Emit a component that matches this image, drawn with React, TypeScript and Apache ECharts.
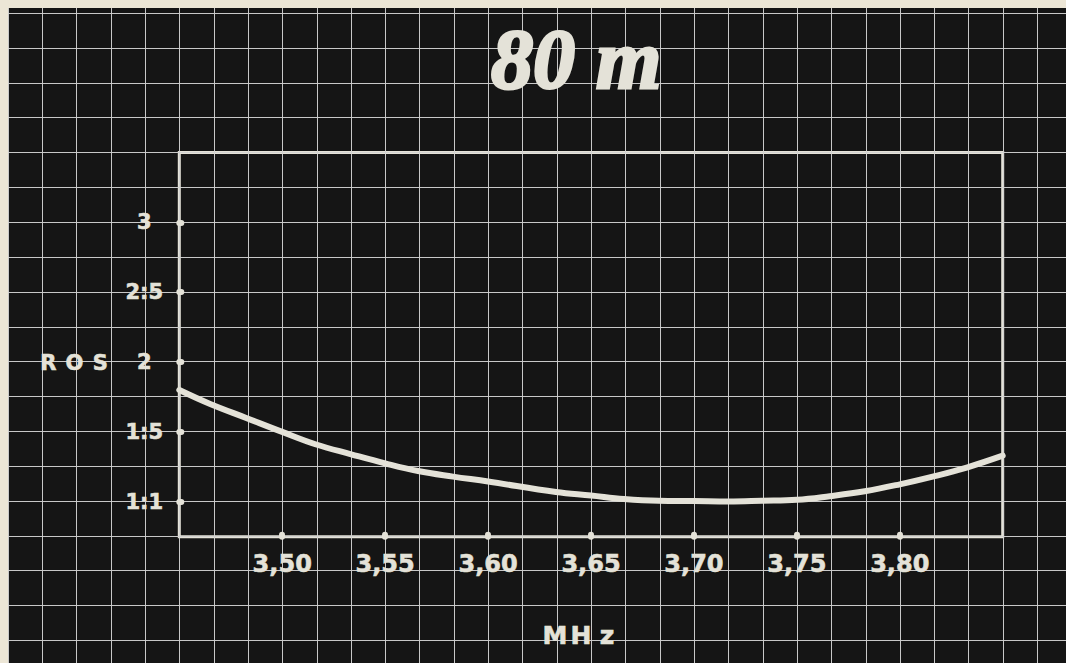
import React, { useEffect, useRef } from "react";
import * as echarts from "echarts";

// Frequency (MHz) and ROS (SWR)
const freqMHz = [3.45, 3.465, 3.4825, 3.5, 3.5165, 3.5335, 3.55, 3.566, 3.583, 3.6, 3.633, 3.65, 3.666, 3.683, 3.7, 3.717, 3.733, 3.75, 3.766, 3.783, 3.8, 3.816, 3.8325, 3.85];
const rosValues = [1.8, 1.7, 1.6, 1.5, 1.41, 1.34, 1.275, 1.22, 1.18, 1.145, 1.07, 1.045, 1.02, 1.007, 1.005, 1.002, 1.007, 1.014, 1.04, 1.075, 1.125, 1.18, 1.245, 1.33];

const xTickValues = [3.5, 3.55, 3.6, 3.65, 3.7, 3.75, 3.8];
const xTickLabels = ["3,50", "3,55", "3,60", "3,65", "3,70", "3,75", "3,80"];
const yTickValues = [1, 1.5, 2, 2.5, 3];
const yTickLabels = ["1:1", "1:5", "2", "2:5", "3"];

const titleText = "80 m";
const xName = "MHz";
const yName = "ROS";

const INK = "#e4e2d8";
const PAPER = "#151515";
const GRIDLINE = "#d2d2d2";

function lookup(values: number[], labels: string[], v: number): string {
  for (let i = 0; i < values.length; i++) {
    if (Math.abs(values[i] - v) < 1e-6) return labels[i];
  }
  return "";
}

function spaced(s: string): string {
  return s.split("").map((c) => `{c|${c}}`).join("");
}

export default function App() {
  const ref = useRef<HTMLDivElement>(null);

  useEffect(() => {
    if (!ref.current) return;
    const chart = echarts.init(ref.current, null, { renderer: "svg" });
    const font = "DejaVu Sans";
    chart.setOption({
      animation: false,
      backgroundColor: PAPER,
      title: {
        text: titleText,
        left: 478,
        top: 4,
        textStyle: {
          fontFamily: "Liberation Serif",
          fontStyle: "italic",
          fontWeight: "bold",
          fontSize: 84,
          color: INK,
          textBorderColor: INK,
          textBorderWidth: 3,
        },
      },
      grid: [
        { left: 0, right: 0, top: 0, bottom: 0, show: true, backgroundColor: PAPER, borderWidth: 0 },
        { left: 0, right: 0, top: 5.1, bottom: 22.6, show: false },
        {
          left: 171.3,
          right: 63.3,
          top: 144.5,
          bottom: 126.3,
          show: true,
          backgroundColor: "transparent",
          borderColor: INK,
          borderWidth: 3,
        },
      ],
      xAxis: [
        {
          type: "value",
          gridIndex: 0,
          min: -5,
          max: -5 + 1058 / 34.31,
          interval: 1,
          axisLine: { show: false },
          axisTick: { show: false },
          axisLabel: { show: false },
          splitLine: { show: true, lineStyle: { color: GRIDLINE, width: 1, opacity: 0.95 } },
        },
        {
          type: "value",
          gridIndex: 1,
          min: 0,
          max: 1,
          show: false,
          splitLine: { show: false },
        },
        {
          type: "value",
          gridIndex: 2,
          min: 3.45,
          max: 3.85,
          axisLine: { show: false },
          splitLine: { show: false },
          axisTick: {
            show: true,
            customValues: xTickValues,
            inside: true,
            length: 2,
            lineStyle: { color: INK, width: 6, cap: "round" },
          },
          axisLabel: {
            customValues: xTickValues,
            formatter: (v: number) => lookup(xTickValues, xTickLabels, v),
            color: INK,
            fontFamily: font,
            fontWeight: "bold",
            fontSize: 24,
            margin: 15,
            textBorderColor: INK,
            textBorderWidth: 0.6,
          },
          name: spaced(xName),
          nameLocation: "middle",
          nameGap: 86,
          nameTextStyle: {
            padding: [0, 20, 0, 0],
            rich: {
              c: { width: 26, align: "center", color: INK, fontFamily: font, fontWeight: "bold", fontSize: 25, textBorderColor: INK, textBorderWidth: 0.6 },
            },
          },
        },
      ],
      yAxis: [
        {
          type: "value",
          gridIndex: 0,
          min: 0,
          max: 1,
          show: false,
          splitLine: { show: false },
        },
        {
          type: "value",
          gridIndex: 1,
          inverse: true,
          min: -4,
          max: 14,
          interval: 1,
          axisLine: { show: false },
          axisTick: { show: false },
          axisLabel: { show: false },
          splitLine: { show: true, lineStyle: { color: GRIDLINE, width: 1, opacity: 0.95 } },
        },
        {
          type: "value",
          gridIndex: 2,
          min: 0.75,
          max: 3.5,
          axisLine: { show: false },
          splitLine: { show: false },
          axisTick: {
            show: true,
            customValues: yTickValues,
            inside: true,
            length: 2,
            lineStyle: { color: INK, width: 6, cap: "round" },
          },
          axisLabel: {
            customValues: yTickValues,
            formatter: (v: number) => lookup(yTickValues, yTickLabels, v),
            color: INK,
            fontFamily: font,
            fontWeight: "bold",
            fontSize: 21,
            align: "center",
            margin: 35,
            textBorderColor: INK,
            textBorderWidth: 0.6,
          },
          name: spaced(yName),
          nameLocation: "middle",
          nameRotate: 0,
          nameGap: 66,
          nameTextStyle: {
            padding: [36, 0, 0, 0],
            rich: {
              c: { width: 26, align: "center", color: INK, fontFamily: font, fontWeight: "bold", fontSize: 21, textBorderColor: INK, textBorderWidth: 0.6 },
            },
          },
        },
      ],
      series: [
        {
          type: "line",
          xAxisIndex: 2,
          yAxisIndex: 2,
          data: freqMHz.map((f, i) => [f, rosValues[i]]),
          smooth: 0.4,
          showSymbol: false,
          symbol: "none",
          lineStyle: { color: INK, width: 6, cap: "round" },
          z: 5,
        },
      ],
    });
    return () => chart.dispose();
  }, []);

  return (
    <div style={{ position: "fixed", left: 0, top: 0, width: 1066, height: 663, background: "#ece6d6", overflow: "hidden" }}>
      <div ref={ref} style={{ position: "absolute", left: 8, top: 8, width: 1058, height: 655 }} />
    </div>
  );
}
